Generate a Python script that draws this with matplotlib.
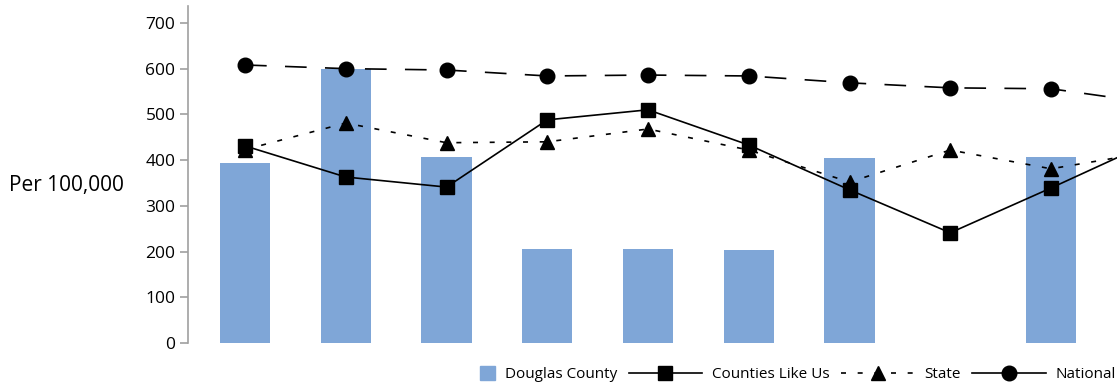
import numpy as np
import matplotlib
matplotlib.use('Agg')
import matplotlib.pyplot as plt
import matplotlib.patches as mpatches
from matplotlib.lines import Line2D
from matplotlib.legend_handler import HandlerPatch

plt.rcParams['font.family'] = ['Open Sans', 'DejaVu Sans']

#values (last category is cut off by the right edge)
douglas = [394, 600, 407, 206, 206, 203, 405, np.nan, 407, np.nan]
counties = [431, 363, 341, 488, 510, 433, 335, 241, 339, 440]
state = [423, 481, 438, 440, 468, 422, 352, 422, 381, 418]
national = [608, 600, 597, 584, 586, 584, 569, 558, 556, 525]
yticks = [0, 100, 200, 300, 400, 500, 600, 700]

bar_color = '#7fa6d7'
x = np.arange(len(douglas))

fig = plt.figure(figsize=(11.17, 3.86), dpi=100)
ax = fig.add_axes([188/1117, 1-343/386, 1-188/1117, 337/386])

ax.bar(x, douglas, width=0.5, color=bar_color, zorder=1)
ax.plot(x, counties, color='black', lw=1.2, marker='s', ms=9.5, zorder=3)
ax.plot(x, state, color='black', lw=1.2, dashes=(3, 7), marker='^', ms=10, zorder=3)
ax.plot(x, national, color='black', lw=1.2, dashes=(13, 11), marker='o', ms=10.5, zorder=3)

ax.set_xlim(-0.566, 8.655)
ax.set_ylim(0, 737)
ax.set_yticks(yticks)
ax.set_xticks([])
for s in ['top', 'right', 'bottom']:
    ax.spines[s].set_visible(False)
ax.spines['left'].set_color('#a0a0a0')
ax.spines['left'].set_linewidth(1.2)
ax.tick_params(axis='y', length=6, width=1.2, color='#a0a0a0', labelsize=12.5, pad=3)

fig.text(124/1117, 1-186/386, 'Per 100,000', ha='right', va='center', fontsize=15)

#legend: square patch drawn at the right end of the handle
def square_patch(legend, orig_handle, xdescent, ydescent, width, height, fontsize):
    s = 10.5
    return mpatches.Rectangle((-xdescent + width - s, -ydescent + (height - s) / 2), s, s)

handles = [mpatches.Patch(color=bar_color),
           Line2D([], [], color='black', lw=1.2, marker='s', ms=9.5),
           Line2D([], [], color='black', lw=1.2, dashes=(3, 7), marker='^', ms=10),
           Line2D([], [], color='black', lw=1.2, marker='o', ms=10.5)]
labels = ['Douglas County', 'Counties Like Us', 'State', 'National']
fig.legend(handles, labels, loc='center right', bbox_to_anchor=(0.999, 1-375/386),
           ncol=4, frameon=False, fontsize=11, handlelength=4.8, handletextpad=0.65,
           columnspacing=0.75, borderpad=0, borderaxespad=0,
           handler_map={mpatches.Patch: HandlerPatch(patch_func=square_patch)})

plt.savefig('out.png', dpi=100)
